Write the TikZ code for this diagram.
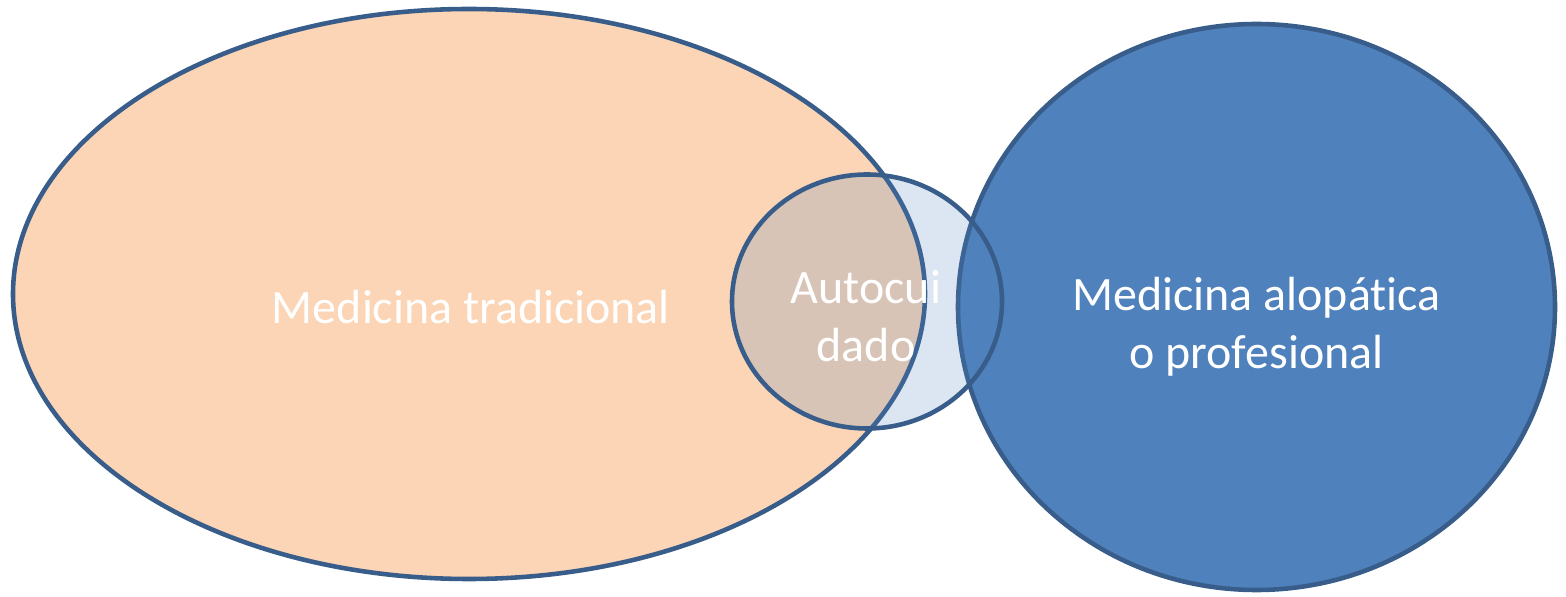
\documentclass[tikz,border=0pt]{standalone}
\usepackage{fontspec}
\setmainfont[Ligatures=NoCommon]{Carlito}
\usepackage{xcolor}
\definecolor{peach}{HTML}{FBD5B5}
\definecolor{steel}{HTML}{4F81BD}
\definecolor{rimblue}{HTML}{385D8A}
\newcommand\pxscale{0.02}

\begin{document}
\begin{tikzpicture}[x=\pxscale cm, y=-\pxscale cm,
		rim/.style={draw=rimblue, line width=2.6pt},
		lbl/.style={text=white, align=center, inner sep=0pt,
			font=\fontsize{27.3}{32.8}\selectfont}]
			\useasboundingbox (0,0) rectangle (1566,597);
			\filldraw[rim, fill=peach] (469,294) ellipse (456 and 285);
			\filldraw[rim, fill=steel] (1256.5,307) ellipse (298.5 and 283);
			\fill[steel, fill opacity=0.2] (867,301.5) ellipse (135 and 127);
			\draw[rim] (867,301.5) ellipse (135 and 127);
			\node (trad) at (471,324)[lbl, anchor=base] {Medicina tradicional};
			\node (auto) at (866,316)[lbl] {Autocui\\dado};
			\node (alop) at (1256.5,327)[lbl] {Medicina alopática\\o profesional};
		\end{tikzpicture}
\end{document}
